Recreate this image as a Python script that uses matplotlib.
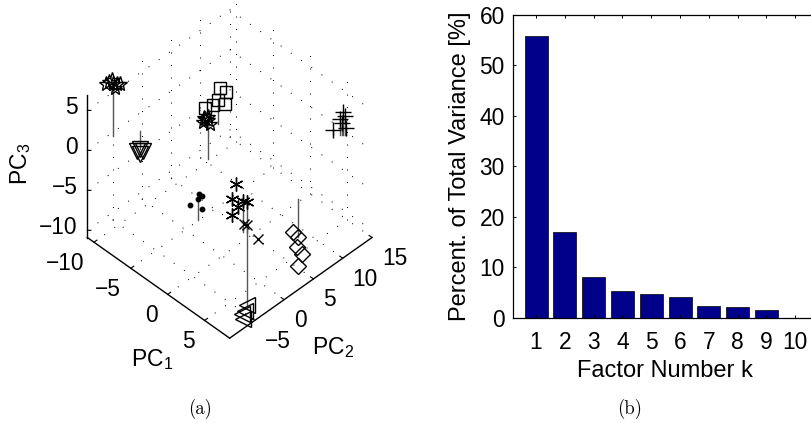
import matplotlib
matplotlib.use("Agg")
import matplotlib.pyplot as plt
from mpl_toolkits.mplot3d import proj3d

plt.rcParams.update({
    "font.family": "Liberation Sans",
    "mathtext.fontset": "custom",
    "mathtext.rm": "Liberation Sans",
    "mathtext.default": "regular",
    "lines.scale_dashes": False,
})

# ---------- panel (b) data ----------
factors = [1, 2, 3, 4, 5, 6, 7, 8, 9, 10]
variance = [55.9, 16.9, 8.0, 5.2, 4.7, 4.15, 2.4, 2.1, 1.5, 0.0]
var_ticks = [0, 10, 20, 30, 40, 50, 60]

# ---------- panel (a) data: PC1, PC2, PC3 per class ----------
star_p1 = [-10.5, -10.77, -10.23, -10.57, -10.36, -10.97, -10.03]
star_p2 = [-5.45, -5.79, -5.11, -5.54, -5.28, -6.05, -4.85]
star_p3 = [6.6, 6.75, 6.5, 7.1, 6.1, 6.6, 6.5]

plus_p1 = [4.97, 5.1, 4.76, 4.29, 4.9, 5.17]
plus_p2 = [14.29, 14.46, 14.03, 13.43, 14.2, 14.54]
plus_p3 = [2.9, 2.4, 2.0, 0.7, 1.6, 0.9]

hexa_p1 = [-1.9, -2.17, -1.9, -2.1, -1.76, -2.24]
hexa_p2 = [0.0, -0.34, 0.0, -0.26, 0.17, -0.43]
hexa_p3 = [5.25, 5.1, 4.9, 5.0, 4.4, 4.6]

sq_p1 = [-4.5, -4.36, -3.96, -4.03, -4.84, -5.38]
sq_p2 = [5.0, 5.17, 5.68, 5.6, 4.57, 3.89]
sq_p3 = [3.1, 4.6, 4.0, 2.5, 2.4, 2.0]

tdown_p1 = [-9.2, -9.4, -9.0, -9.2]
tdown_p2 = [-2.5, -2.76, -2.24, -2.5]
tdown_p3 = [-2.25, -2.5, -2.5, -2.9]

dot_p1 = [3.27, 2.73, 3.34, 3.54, 3.54]
dot_p2 = [-8.3, -8.98, -8.21, -7.96, -7.96]
dot_p3 = [2.6, 1.9, 3.25, 3.0, 1.4]

ast_p1 = [7.77, 7.03, 6.76, 7.5, 7.16, 6.76]
ast_p2 = [-5.5, -6.44, -6.78, -5.84, -6.27, -6.78]
ast_p3 = [3.75, 6.0, 4.1, 3.9, 3.1, 2.1]

x_p1 = [9.17, 6.78, 6.98]
x_p2 = [-5.46, -4.83, -4.57]
x_p3 = [0.0, 0.0, -0.1]

tleft_p1 = [7.27, 6.93, 7.0, 7.13]
tleft_p2 = [-4.94, -5.37, -5.28, -5.11]
tleft_p3 = [-9.75, -10.9, -11.5, -10.5]

dia_p1 = [8.0, 7.66, 7.93, 8.27, 8.0]
dia_p2 = [2.8, 2.37, 2.71, 3.14, 2.8]
dia_p3 = [-4.75, -4.1, -6.0, -6.9, -8.4]

p1_ticks = [-10, -5, 0, 5]
p2_ticks = [-5, 0, 5, 10, 15]
p3_ticks = [-10, -5, 0, 5]
p1_lim = (-10.9, 8.4)
p2_lim = (-9.3, 15.0)
p3_lim = (-10.9, 6.9)

W, H = 812, 423
fig = plt.figure(figsize=(W / 100, H / 100), dpi=100)

# ---------- panel (a) ----------
side = 420
ax3 = fig.add_axes([14 / W, 41 / H, side / W, side / H], projection="3d",
                   proj_type="ortho", computed_zorder=False)
ax3.set_axis_off()
ax3.patch.set_alpha(0)
ax3.view_init(elev=45, azim=-45)
ax3.set_box_aspect((1, 1, 1), zoom=0.806)
ax3.set_xlim(*p1_lim, view_margin=0)
ax3.set_ylim(*p2_lim, view_margin=0)
ax3.set_zlim(*p3_lim, view_margin=0)

x0, x1 = p1_lim
y0, y1 = p2_lim
z0, z1 = p3_lim
grid = dict(color="black", lw=0.75, ls=(0, (0.7, 8.3)), zorder=1)
for t in p1_ticks:
    ax3.plot([t, t], [y0, y1], [z0, z0], **grid)
    ax3.plot([t, t], [y1, y1], [z0, z1], **grid)
for t in p2_ticks:
    ax3.plot([x0, x1], [t, t], [z0, z0], **grid)
    ax3.plot([x0, x0], [t, t], [z0, z1], **grid)
for t in p3_ticks:
    ax3.plot([x0, x0], [y0, y1], [t, t], **grid)
    ax3.plot([x0, x1], [y1, y1], [t, t], **grid)

axis = dict(color="black", lw=1.0, zorder=2)
ax3.plot([x0, x1], [y0, y0], [z0, z0], **axis)
ax3.plot([x1, x1], [y0, y1], [z0, z0], **axis)
ax3.plot([x0, x0], [y0, y0], [z0, z1], **axis)
tick = dict(color="black", lw=0.8, zorder=2)


def tick_label(x, y, z, value, dx, dy, ha):
    """Tick label placed at the projected 3D tick, offset in pixels."""
    sx, sy, _ = proj3d.proj_transform(x, y, z, ax3.get_proj())
    ax3.annotate(str(value).replace("-", "\u2212"), xy=(float(sx), float(sy)),
                 xytext=(dx, dy), textcoords="offset pixels",
                 ha=ha, va="center", fontsize=16.4)


ax3.apply_aspect()
for t in p1_ticks:
    ax3.plot([t, t], [y0, y0 + 0.5], [z0, z0], **tick)
    tick_label(t, y0, z0, t, -10, -21, "right")
for t in p2_ticks:
    ax3.plot([x1 - 0.4, x1], [t, t], [z0, z0], **tick)
    tick_label(x1, t, z0, t, 10, -21, "left")
for t in p3_ticks:
    ax3.plot([x0, x0 + 0.25], [y0, y0 + 0.3], [t, t], **tick)
    tick_label(x0, y0, t, t, -10, 3, "right")

# (x, y, z, marker, size, stem point indices)
classes = [
    (star_p1, star_p2, star_p3, "*", 11, [0]),
    (plus_p1, plus_p2, plus_p3, "+", 11, [0, 1, 2, 3, 4, 5]),
    (sq_p1, sq_p2, sq_p3, "s", 8.5, [0]),
    (hexa_p1, hexa_p2, hexa_p3, "*", 11, [0]),
    (tdown_p1, tdown_p2, tdown_p3, "v", 12, [0]),
    (dot_p1, dot_p2, dot_p3, "o", 3.2, [0]),
    (ast_p1, ast_p2, ast_p3, (6, 2, 0), 10, [0, 3]),
    (x_p1, x_p2, x_p3, "x", 7.5, []),
    (tleft_p1, tleft_p2, tleft_p3, "<", 12, [0]),
    (dia_p1, dia_p2, dia_p3, "D", 8, [0]),
]
for px, py, pz, marker, ms, stems in classes:
    for i in stems:
        ax3.plot([px[i], px[i]], [py[i], py[i]], [0, pz[i]],
                 color="#555555", lw=1.0, zorder=3)
    filled = marker == "o"
    ax3.plot(px, py, pz, ls="none", marker=marker, ms=ms, mew=1.0,
             mec="black", mfc="black" if filled else "none", zorder=4)

fig.text(131 / W, 1 - 366 / H, "PC$_1$", ha="left", va="baseline", fontsize=16.5)
fig.text(312 / W, 1 - 354 / H, "PC$_2$", ha="left", va="baseline", fontsize=16.5)
fig.text(27 / W, 1 - 185 / H, "PC$_3$", rotation=90, rotation_mode="anchor",
         ha="left", va="baseline", fontsize=16.5)
fig.text(200 / W, 1 - 409 / H, "(a)", family="cmr10", ha="center", va="center", fontsize=13.5)

# ---------- panel (b) ----------
left, top, bottom = 513, 15, 317.7
ax = fig.add_axes([left / W, (H - bottom) / H, (W - left) / W, (bottom - top) / H])
ax.bar(factors, variance, width=0.8, color="#00008b", edgecolor="black", linewidth=0.5)
ax.set_xlim(0.2, 10.58)
ax.set_ylim(0, 60)
ax.set_xticks(factors)
ax.set_yticks(var_ticks)
ax.spines["right"].set_visible(False)
for s in ("left", "top", "bottom"):
    ax.spines[s].set_linewidth(0.9)
ax.tick_params(axis="x", direction="in", top=True, length=2.5, width=0.7, pad=9.5, labelsize=16.4)
ax.tick_params(axis="y", direction="in", length=2.5, width=0.7, pad=6, labelsize=16.4)
ax.set_axisbelow(False)
fig.text(665 / W, 1 - 371 / H, "Factor Number k", ha="center", va="center", fontsize=17)
fig.text(460 / W, 1 - 166 / H, "Percent. of Total Variance [%]", rotation=90,
         ha="center", va="center", fontsize=17)
fig.text(630 / W, 1 - 409 / H, "(b)", family="cmr10", ha="center", va="center", fontsize=13.5)

fig.savefig("out.png", dpi=100)
